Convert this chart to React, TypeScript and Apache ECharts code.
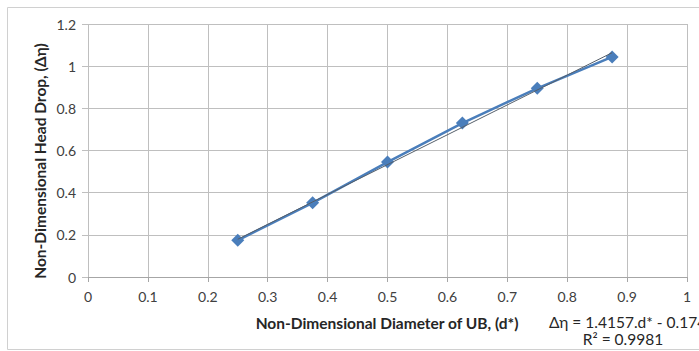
import React, { useEffect, useRef } from "react";
import * as echarts from "echarts";

const xValues = [0.25, 0.375, 0.5, 0.625, 0.75, 0.875];
const yValues = [0.174, 0.352, 0.545, 0.73, 0.895, 1.044];
const trendX = [0.25, 0.875];
const trendY = [0.179, 1.064];
const xTicks = [0, 0.1, 0.2, 0.3, 0.4, 0.5, 0.6, 0.7, 0.8, 0.9, 1];
const yTicks = [0, 0.2, 0.4, 0.6, 0.8, 1, 1.2];
const xTitle = "Non-Dimensional Diameter of UB, (d*)";
const yTitle = "Non-Dimensional Head Drop, (Δη)";
const equation = "Δη = 1.4157.d* - 0.1747";
const rSquared = "R² = 0.9981";

const FONT = "Lato, 'Open Sans', sans-serif";

export default function App() {
  const ref = useRef<HTMLDivElement>(null);
  useEffect(() => {
    document.body.style.margin = "0";
    if (!ref.current) return;
    const chart = echarts.init(ref.current, null, { renderer: "svg" });
    chart.setOption({
      animation: false,
      backgroundColor: "#ffffff",
      grid: { left: 88, right: 12, top: 24, bottom: 74 },
      xAxis: {
        type: "value",
        min: xTicks[0],
        max: xTicks[xTicks.length - 1],
        interval: 0.1,
        axisLine: { show: true, lineStyle: { color: "#a6a6a6", width: 1 } },
        axisTick: { show: true, length: 5, lineStyle: { color: "#a6a6a6" } },
        splitLine: { show: true, lineStyle: { color: "#bfbfbf", width: 1 } },
        axisLabel: {
          color: "#404040",
          fontFamily: FONT,
          fontSize: 14,
          margin: 12,
          formatter: (v: number) => String(Math.round(v * 10) / 10),
        },
      },
      yAxis: {
        type: "value",
        min: yTicks[0],
        max: yTicks[yTicks.length - 1],
        interval: 0.2,
        axisLine: { show: false },
        axisTick: { show: true, length: 6, lineStyle: { color: "#bfbfbf" } },
        splitLine: { show: true, lineStyle: { color: "#bfbfbf", width: 1 } },
        axisLabel: {
          color: "#404040",
          fontFamily: FONT,
          fontSize: 14,
          margin: 12,
          formatter: (v: number) => String(Math.round(v * 10) / 10),
        },
      },
      series: [
        {
          type: "line",
          data: xValues.map((x, i) => [x, yValues[i]]),
          symbol: "diamond",
          symbolSize: 13,
          lineStyle: { color: "#4A7EBB", width: 2.5 },
          itemStyle: { color: "#4A7EBB" },
          z: 2,
        },
        {
          type: "line",
          data: trendX.map((x, i) => [x, trendY[i]]),
          symbol: "none",
          lineStyle: { color: "#555f6a", width: 1 },
          z: 3,
        },
      ],
      graphic: [
        {
          type: "rect",
          shape: { x: 7.5, y: 7.5, width: 720, height: 342 },
          style: { fill: "none", stroke: "#d0d0d0", lineWidth: 1 },
          silent: true,
        },
        {
          type: "text",
          x: 40,
          y: 161,
          rotation: Math.PI / 2,
          style: {
            text: yTitle,
            font: `bold 15.5px ${FONT}`,
            fill: "#262626",
            textAlign: "center",
            textVerticalAlign: "middle",
          },
        },
        {
          type: "text",
          x: 387,
          y: 323,
          style: {
            text: xTitle,
            font: `bold 15.5px ${FONT}`,
            fill: "#262626",
            textAlign: "center",
            textVerticalAlign: "middle",
          },
        },
        {
          type: "text",
          x: 549,
          y: 322,
          style: {
            text: equation,
            font: `15.5px ${FONT}`,
            fill: "#262626",
            textAlign: "left",
            textVerticalAlign: "middle",
          },
        },
        {
          type: "text",
          x: 623,
          y: 339,
          style: {
            text: rSquared,
            font: `15.5px ${FONT}`,
            fill: "#262626",
            textAlign: "center",
            textVerticalAlign: "middle",
          },
        },
      ],
    });
    return () => chart.dispose();
  }, []);
  return <div ref={ref} style={{ width: 699, height: 351 }} />;
}
